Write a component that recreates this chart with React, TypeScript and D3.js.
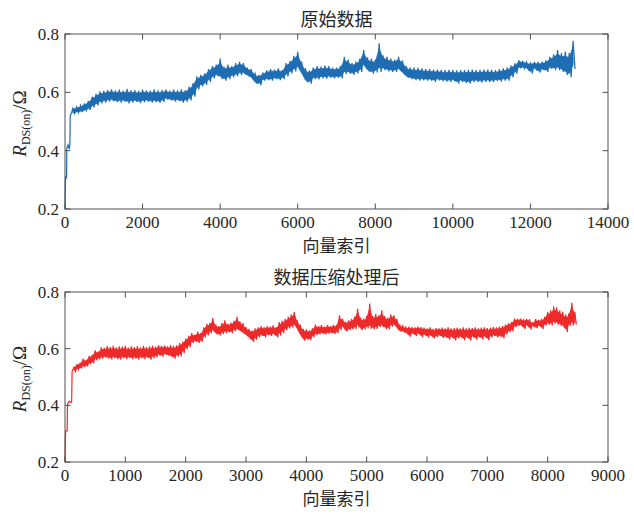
import React from 'react';
import * as d3 from 'd3';

// ---------- data: original signal (top) ----------
const rawHeadIdx = [0, 12, 20, 40, 48, 80, 110, 125, 135, 170];
const rawHeadVal = [0.2, 0.3, 0.31, 0.305, 0.41, 0.42, 0.405, 0.42, 0.52, 0.53];
const rawStart = 200;
const rawStep = 100;
const rawHi = [
  0.545, 0.55, 0.555, 0.562, 0.57, 0.585, 0.595, 0.603, 0.605, 0.608,
  0.61, 0.607, 0.609, 0.606, 0.612, 0.607, 0.608, 0.605, 0.609, 0.607,
  0.606, 0.61, 0.607, 0.608, 0.61, 0.606, 0.609, 0.607, 0.61, 0.608,
  0.62, 0.632, 0.655, 0.66, 0.665, 0.68, 0.69, 0.695, 0.716, 0.688,
  0.695, 0.69, 0.7, 0.705, 0.7, 0.685, 0.68, 0.665, 0.66, 0.668,
  0.675, 0.68, 0.678, 0.682, 0.676, 0.7, 0.708, 0.725, 0.739, 0.705,
  0.682, 0.675, 0.685, 0.69, 0.688, 0.692, 0.69, 0.685, 0.685, 0.69,
  0.722, 0.712, 0.7, 0.705, 0.716, 0.745, 0.72, 0.716, 0.712, 0.768,
  0.727, 0.722, 0.716, 0.712, 0.722, 0.71, 0.69, 0.685, 0.685, 0.684,
  0.682, 0.68, 0.68, 0.678, 0.678, 0.677, 0.676, 0.677, 0.676, 0.675,
  0.676, 0.676, 0.677, 0.678, 0.676, 0.677, 0.678, 0.678, 0.677, 0.676,
  0.68, 0.682, 0.685, 0.692, 0.699, 0.71, 0.708, 0.704, 0.703, 0.704,
  0.704, 0.705, 0.71, 0.722, 0.73, 0.745, 0.735, 0.74, 0.735, 0.777,
];
const rawLo = [
  0.527, 0.53, 0.532, 0.535, 0.54, 0.548, 0.555, 0.562, 0.565, 0.568,
  0.57, 0.566, 0.565, 0.568, 0.562, 0.565, 0.567, 0.563, 0.566, 0.568,
  0.565, 0.566, 0.564, 0.567, 0.575, 0.572, 0.568, 0.57, 0.565, 0.568,
  0.572, 0.585, 0.61, 0.62, 0.625, 0.636, 0.648, 0.655, 0.645, 0.64,
  0.645, 0.652, 0.655, 0.66, 0.662, 0.655, 0.648, 0.63, 0.625, 0.64,
  0.642, 0.64, 0.645, 0.642, 0.645, 0.655, 0.665, 0.672, 0.68, 0.66,
  0.635, 0.63, 0.645, 0.644, 0.648, 0.647, 0.65, 0.648, 0.65, 0.648,
  0.662, 0.664, 0.66, 0.665, 0.67, 0.687, 0.67, 0.664, 0.668, 0.67,
  0.676, 0.672, 0.67, 0.67, 0.675, 0.662, 0.65, 0.645, 0.642, 0.64,
  0.641, 0.64, 0.64, 0.636, 0.641, 0.638, 0.637, 0.636, 0.638, 0.63,
  0.636, 0.632, 0.63, 0.635, 0.636, 0.633, 0.636, 0.636, 0.635, 0.638,
  0.637, 0.64, 0.64, 0.652, 0.664, 0.682, 0.682, 0.68, 0.665, 0.68,
  0.668, 0.676, 0.67, 0.68, 0.676, 0.676, 0.67, 0.66, 0.652, 0.68,
];

// ---------- data: compressed signal (bottom) ----------
const compHeadIdx = [0, 8, 15, 35, 42, 70, 100, 110, 118];
const compHeadVal = [0.2, 0.3, 0.31, 0.31, 0.405, 0.415, 0.41, 0.412, 0.52];
const compStart = 150;
const compStep = 50;
const compHi = [
  0.535, 0.545, 0.55, 0.565, 0.56, 0.575, 0.578, 0.594, 0.59, 0.605,
  0.603, 0.609, 0.606, 0.61, 0.605, 0.608, 0.607, 0.61, 0.604, 0.608,
  0.606, 0.609, 0.605, 0.61, 0.606, 0.608, 0.611, 0.607, 0.613, 0.61,
  0.612, 0.608, 0.613, 0.61, 0.612, 0.62, 0.625, 0.636, 0.645, 0.655,
  0.65, 0.66, 0.655, 0.675, 0.688, 0.69, 0.708, 0.685, 0.68, 0.69,
  0.7, 0.688, 0.692, 0.698, 0.712, 0.696, 0.69, 0.676, 0.67, 0.665,
  0.672, 0.675, 0.68, 0.676, 0.68, 0.678, 0.682, 0.676, 0.694, 0.698,
  0.705, 0.712, 0.72, 0.729, 0.7, 0.685, 0.67, 0.668, 0.665, 0.672,
  0.685, 0.68, 0.683, 0.678, 0.683, 0.68, 0.684, 0.683, 0.718, 0.705,
  0.695, 0.7, 0.705, 0.712, 0.741, 0.71, 0.706, 0.715, 0.759, 0.715,
  0.722, 0.718, 0.735, 0.715, 0.71, 0.72, 0.718, 0.705, 0.683, 0.68,
  0.676, 0.678, 0.676, 0.675, 0.678, 0.676, 0.674, 0.672, 0.675, 0.67,
  0.673, 0.672, 0.674, 0.672, 0.675, 0.672, 0.673, 0.674, 0.672, 0.675,
  0.672, 0.674, 0.673, 0.675, 0.672, 0.674, 0.675, 0.673, 0.674, 0.676,
  0.675, 0.678, 0.68, 0.685, 0.69, 0.694, 0.706, 0.705, 0.706, 0.704,
  0.705, 0.704, 0.69, 0.704, 0.702, 0.705, 0.712, 0.729, 0.735, 0.749,
  0.745, 0.735, 0.73, 0.72, 0.725, 0.762, 0.73,
];
const compLo = [
  0.52, 0.527, 0.53, 0.535, 0.537, 0.545, 0.548, 0.559, 0.562, 0.565,
  0.568, 0.565, 0.562, 0.566, 0.563, 0.561, 0.566, 0.563, 0.567, 0.562,
  0.565, 0.561, 0.566, 0.563, 0.567, 0.561, 0.566, 0.57, 0.575, 0.572,
  0.578, 0.575, 0.57, 0.565, 0.572, 0.573, 0.585, 0.598, 0.605, 0.62,
  0.625, 0.62, 0.625, 0.64, 0.647, 0.655, 0.66, 0.65, 0.647, 0.652,
  0.655, 0.658, 0.655, 0.662, 0.665, 0.66, 0.652, 0.645, 0.635, 0.624,
  0.632, 0.64, 0.645, 0.64, 0.648, 0.645, 0.65, 0.64, 0.647, 0.655,
  0.665, 0.671, 0.675, 0.68, 0.665, 0.645, 0.628, 0.632, 0.63, 0.64,
  0.648, 0.65, 0.653, 0.65, 0.653, 0.655, 0.652, 0.655, 0.665, 0.676,
  0.66, 0.665, 0.668, 0.67, 0.676, 0.665, 0.668, 0.672, 0.67, 0.668,
  0.67, 0.676, 0.676, 0.67, 0.668, 0.678, 0.682, 0.67, 0.66, 0.66,
  0.655, 0.642, 0.653, 0.645, 0.652, 0.641, 0.648, 0.64, 0.645, 0.636,
  0.641, 0.645, 0.638, 0.64, 0.632, 0.64, 0.629, 0.636, 0.64, 0.63,
  0.638, 0.629, 0.64, 0.632, 0.64, 0.633, 0.64, 0.63, 0.64, 0.645,
  0.64, 0.642, 0.636, 0.65, 0.658, 0.662, 0.676, 0.68, 0.682, 0.67,
  0.682, 0.668, 0.68, 0.672, 0.68, 0.67, 0.682, 0.685, 0.682, 0.688,
  0.685, 0.68, 0.676, 0.659, 0.68, 0.682, 0.685,
];

// ---------- axes ----------
const topXTicks = [0, 2000, 4000, 6000, 8000, 10000, 12000, 14000];
const botXTicks = [0, 1000, 2000, 3000, 4000, 5000, 6000, 7000, 8000, 9000];
const yTicks = [0.2, 0.4, 0.6, 0.8];
const topTitle = '原始数据';
const botTitle = '数据压缩处理后';
const xLabel = '向量索引';

type Pt = [number, number];

function buildSeries(
  headIdx: number[], headVal: number[], start: number, step: number,
  hi: number[], lo: number[]
): Pt[] {
  const pts: Pt[] = headIdx.map((x, i) => [x, headVal[i]] as Pt);
  hi.forEach((h, k) => {
    const x = start + k * step;
    pts.push([x, h]);
    pts.push([x + step / 2, lo[k]]);
  });
  return pts;
}

type Band = { x: number; hi: number; lo: number };
function buildBand(start: number, step: number, hi: number[], lo: number[]): Band[] {
  return hi.map((h, k) => ({ x: start + k * step, hi: h, lo: lo[k] }));
}

const AXIS = '#505050';
const TEXT = '#262626';
const SERIF = '"Liberation Serif", "Times New Roman", "DejaVu Serif", serif';
const CJK = '"Noto Sans CJK SC", "Noto Sans", sans-serif';

type PanelProps = {
  left: number; right: number; top: number; bottom: number;
  xMax: number; xTicks: number[]; title: string;
  data: Pt[]; band: Band[]; color: string;
};

function Panel({ left, right, top, bottom, xMax, xTicks, title, data, band, color }: PanelProps) {
  const x = d3.scaleLinear().domain([0, xMax]).range([left, right]);
  const y = d3.scaleLinear().domain([0.2, 0.8]).range([bottom, top]);
  const line = d3.line<Pt>().x(d => x(d[0])).y(d => y(d[1]));
  // inner band: slightly inside the read envelope so the zigzag edges stay ragged
  const area = d3.area<Band>()
    .x(d => x(d.x))
    .y0(d => y(d.lo + (d.hi - d.lo) * 0.15))
    .y1(d => y(d.hi - (d.hi - d.lo) * 0.2));
  const tk = 5.5;
  const cx = (left + right) / 2;
  const cy = (top + bottom) / 2;
  return (
    <g>
      <rect x={left} y={top} width={right - left} height={bottom - top} fill="#fff" />
      <path d={area(band) || ''} fill={color} stroke={color} strokeWidth={0.8} />
      <path d={line(data) || ''} fill="none" stroke={color} strokeWidth={1.2} strokeLinejoin="miter" />
      <rect x={left} y={top} width={right - left} height={bottom - top} fill="none" stroke={AXIS} strokeWidth={1} />
      {xTicks.map(t => (
        <g key={'x' + t}>
          <line x1={x(t)} x2={x(t)} y1={bottom} y2={bottom - tk} stroke={AXIS} />
          <line x1={x(t)} x2={x(t)} y1={top} y2={top + tk} stroke={AXIS} />
          <text x={x(t)} y={bottom + 19} textAnchor="middle" fontFamily={SERIF} fontSize={17} fill={TEXT}>{t}</text>
        </g>
      ))}
      {yTicks.map(t => (
        <g key={'y' + t}>
          <line x1={left} x2={left + tk} y1={y(t)} y2={y(t)} stroke={AXIS} />
          <line x1={right} x2={right - tk} y1={y(t)} y2={y(t)} stroke={AXIS} />
          <text x={left - 6} y={y(t) + 6} textAnchor="end" fontFamily={SERIF} fontSize={17} fill={TEXT}>{t.toFixed(1)}</text>
        </g>
      ))}
      <text x={cx} y={top - 8} textAnchor="middle" fontFamily={CJK} fontSize={18} fill={TEXT}>{title}</text>
      <text x={cx} y={bottom + 43} textAnchor="middle" fontFamily={CJK} fontSize={17} fill={TEXT}>{xLabel}</text>
      <text transform={`translate(26,${cy + 2}) rotate(-90)`} textAnchor="middle" fontFamily={SERIF} fill={TEXT}>
        <tspan fontStyle="italic" fontSize={19}>R</tspan>
        <tspan fontSize={12} dy={4}>DS(on)</tspan>
        <tspan fontSize={19} dy={-4}>/Ω</tspan>
      </text>
    </g>
  );
}

export default function App() {
  const rawSeries = buildSeries(rawHeadIdx, rawHeadVal, rawStart, rawStep, rawHi, rawLo);
  const compSeries = buildSeries(compHeadIdx, compHeadVal, compStart, compStep, compHi, compLo);
  const rawBand = buildBand(rawStart, rawStep, rawHi, rawLo);
  const compBand = buildBand(compStart, compStep, compHi, compLo);
  return (
    <svg width={634} height={514} style={{ position: 'absolute', left: 0, top: 0, background: '#fff' }}>
      <rect width={634} height={514} fill="#fff" />
      <Panel left={65} right={608} top={34} bottom={209} xMax={14000} xTicks={topXTicks}
        title={topTitle} data={rawSeries} band={rawBand} color="#1f6db3" />
      <Panel left={65} right={608} top={292} bottom={462} xMax={9000} xTicks={botXTicks}
        title={botTitle} data={compSeries} band={compBand} color="#ee2a2a" />
    </svg>
  );
}
